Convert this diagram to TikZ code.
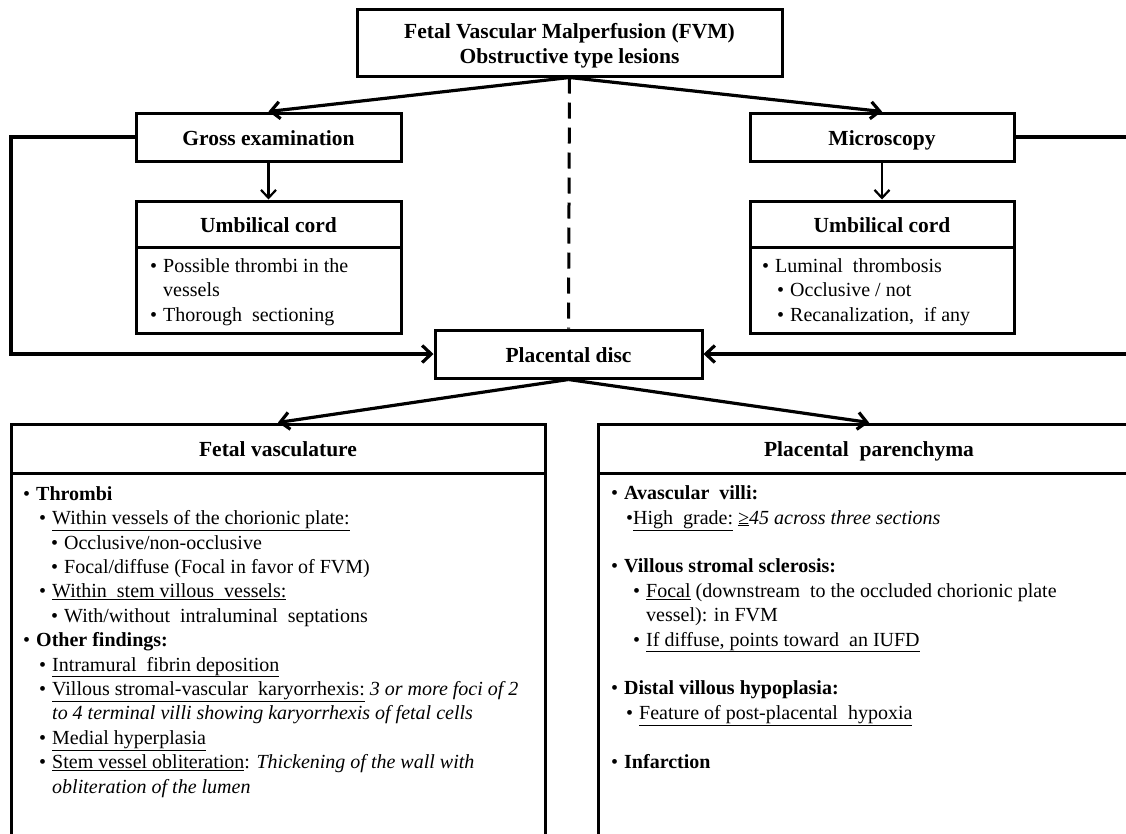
\documentclass[tikz,border=0pt]{standalone}
\usepackage{fontspec}
\setmainfont{Liberation Serif}
\usetikzlibrary{arrows.meta,positioning}
\newcommand{\bul}[1]{\hspace*{#1pt}\makebox[0pt][r]{\textbullet\hspace{6pt}}}
\newcommand{\tbul}[1]{\hspace*{#1pt}\makebox[0pt][r]{\textbullet}}

\begin{document}
\begin{tikzpicture}[x=1pt,y=-1pt,
  every node/.style={font=\fontsize{20}{24.4}\selectfont},
  box/.style={draw,line width=3pt,inner sep=0pt,align=center},
  hdbox/.style={font=\fontsize{21.5}{25}\selectfont\bfseries},
  onerow/.style={text height=17pt,text depth=1pt},
  txt/.style={anchor=base west,align=left,inner sep=0pt},
  flowarr/.style={line width=3.2pt,-{Straight Barb[length=9pt,width=17pt]}},
  downarr/.style={line width=2.2pt,-{Straight Barb[length=8pt,width=15pt]}}]
  \useasboundingbox (0,0) rectangle (1126,833);
  \clip (0,0) rectangle (1126,833);
  %% top of the tree
  \node[box,hdbox,minimum width=425pt,minimum height=67pt,text height=47pt,text depth=5pt] (fvm) at (569.5,42.5)
    {Fetal Vascular Malperfusion (FVM)\\Obstructive type lesions};
  \node[box,hdbox,onerow,minimum width=265pt,minimum height=48pt] (gross) at (268.5,137) {Gross examination};
  \node[box,hdbox,onerow,minimum width=264pt,minimum height=48pt] (micro) at (882,137) {Microscopy};
  %% umbilical cord, gross
  \node[box,hdbox,onerow,minimum width=265pt,minimum height=46pt] (cordLhead) at (268.5,224) {Umbilical cord};
  \node[box,minimum width=265pt,minimum height=86pt] (cordLbody) at (268.5,290) {};
  \node[txt] (cordLtext) at (136,321) {%
    \bul{27}Possible thrombi in the\\
    \hspace*{27pt}vessels\\
    \bul{27}Thorough\ \ sectioning};
  %% umbilical cord, microscopy
  \node[box,hdbox,onerow,minimum width=264pt,minimum height=46pt] (cordRhead) at (882,224) {Umbilical cord};
  \node[box,minimum width=264pt,minimum height=86pt] (cordRbody) at (882,290) {};
  \node[txt] (cordRtext) at (750,321) {%
    \bul{25}Luminal\ \ thrombosis\\
    \bul{40}Occlusive / not\\
    \bul{40}Recanalization,\ \ if any};
  %% placental disc
  \node[box,hdbox,onerow,minimum width=267pt,minimum height=48pt] (disc) at (568.5,354) {Placental disc};
  %% fetal vasculature
  \node[box,hdbox,onerow,minimum width=534pt,minimum height=49pt] (vascHead) at (278,448.5) {Fetal vasculature};
  \node[box,minimum width=534pt,minimum height=377pt] (vascBody) at (278,661.5) {};
  \node[txt] (vascText) at (11,793) {%
    \bul{25}\textbf{Thrombi}\\
    \bul{41}\underline{Within vessels of the chorionic plate:}\\
    \bul{53}Occlusive/non-occlusive\\
    \bul{53}Focal/diffuse (Focal in favor of FVM)\\
    \bul{41}\underline{Within\ \ stem villous\ \ vessels:}\\
    \bul{53}With/without\ \ intraluminal\ \ septations\\
    \bul{25}\textbf{Other findings:}\\
    \bul{41}\underline{Intramural\ \ fibrin deposition}\\
    \bul{41}\underline{Villous stromal-vascular\ \ karyorrhexis:} \textit{3 or more foci of 2}\\
    \hspace*{41pt}\textit{to 4 terminal villi showing karyorrhexis of fetal cells}\\
    \bul{41}\underline{Medial hyperplasia}\\
    \bul{41}\underline{Stem vessel obliteration}: \textit{Thickening of the wall with}\\
    \hspace*{41pt}\textit{obliteration of the lumen}};
  %% placental parenchyma
  \node[box,hdbox,onerow,minimum width=542pt,minimum height=49pt] (parHead) at (869,448.5) {Placental\ \ parenchyma};
  \node[box,minimum width=542pt,minimum height=377pt] (parBody) at (869,661.5) {};
  \node[txt] (parText) at (598,768) {%
    \bul{26}\textbf{Avascular\ \ villi:}\\
    \tbul{35}\underline{High\ \ grade:} \textit{\underline{≥}45 across three sections}\\[24.4pt]
    \bul{26}\textbf{Villous stromal sclerosis:}\\
    \bul{48}\underline{Focal} (downstream\ \ to the occluded chorionic plate\\
    \hspace*{48pt}vessel): in FVM\\
    \bul{48}\underline{If diffuse, points toward\ \ an IUFD}\\[24.4pt]
    \bul{26}\textbf{Distal villous hypoplasia:}\\
    \bul{41}\underline{Feature of post-placental\ \ hypoxia}\\[24.4pt]
    \bul{26}\textbf{Infarction}};
  %% connectors
  \coordinate (lEdge) at (11,137);
  \coordinate (rEdge) at (1132,137);
  \draw[flowarr] (fvm.south) -- (gross.north);
  \draw[flowarr] (fvm.south) -- (micro.north);
  \draw[line width=3pt,dash pattern=on 16pt off 9pt] (fvm.south) -- (disc.north);
  \draw[downarr] (gross.south) -- (cordLhead.north);
  \draw[downarr] (micro.south) -- (cordRhead.north);
  \draw[flowarr] (gross.west) -- (lEdge) |- (disc.west);
  \draw[flowarr] (micro.east) -- (rEdge) |- (disc.east);
  \draw[flowarr] (disc.south) -- (vascHead.north);
  \draw[flowarr] (disc.south) -- (parHead.north);
\end{tikzpicture}
\end{document}
